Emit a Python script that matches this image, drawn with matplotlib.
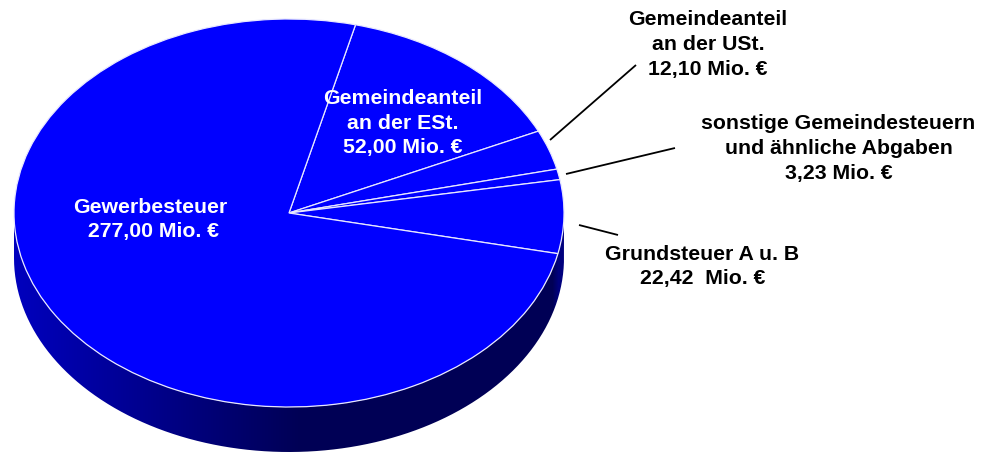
import numpy as np
import matplotlib
matplotlib.use('Agg')
import matplotlib.pyplot as plt
from matplotlib.path import Path
from matplotlib.patches import PathPatch

plt.rcParams['font.family'] = ['Liberation Sans', 'DejaVu Sans']

# clockwise from the top: ESt, USt, sonstige, Grundsteuer, Gewerbesteuer
values = [52.00, 12.10, 3.23, 22.42, 277.00]
labels = ['Gemeindeanteil\nan der ESt.\n52,00 Mio. €',
          'Gemeindeanteil\nan der USt.\n12,10 Mio. €',
          'sonstige Gemeindesteuern\nund ähnliche Abgaben\n3,23 Mio. €',
          'Grundsteuer A u. B\n22,42  Mio. €',
          'Gewerbesteuer\n 277,00 Mio. €']
label_px = [(403, 123), (708, 44.5), (838.5, 148.5), (702.5, 266.5), (150, 219.5)]
# leader lines in pixels, None = label sits on the slice
leader_px = [None, ((550, 140), (636, 65)), ((566, 174), (675, 148)), ((579, 225), (618, 235)), None]

W, H = 992, 453
CX, CY = 289, 213
RX, RY = 275, 194
DEPTH = 45


def to_x(px):
    return (px - CX) / RX


def to_y(py):
    return (CY - py) / RY


fig = plt.figure(figsize=(W / 100, H / 100), dpi=100)
ax = fig.add_axes([0, 0, 1, 1])

# side wall of the disc
t = np.linspace(np.pi, 2 * np.pi, 300)
top_edge = np.column_stack([np.cos(t), np.sin(t)])
low_edge = np.column_stack([np.cos(t), np.sin(t) - DEPTH / RY])
wall = np.vstack([top_edge, low_edge[::-1], top_edge[:1]])
clip = PathPatch(Path(wall), facecolor='none', edgecolor='none', transform=ax.transData)
ax.add_patch(clip)

xs = np.arange(W)
blue = np.interp(xs, [14, 300, 552, 558, 564], [190, 85, 85, 125, 125]) / 255
grad = np.zeros((1, W, 3))
grad[0, :, 2] = blue
img = ax.imshow(grad, extent=(to_x(0), to_x(W), to_y(H), to_y(0)), aspect='auto', zorder=1)
img.set_clip_path(clip)

wedges, _ = ax.pie(values, startangle=76, counterclock=False, radius=1,
                   colors=['#0000ff'] * len(values),
                   wedgeprops=dict(edgecolor='#e8e8ff', linewidth=0.9))
for w in wedges:
    w.set_zorder(2)

for lab, pos, lead in zip(labels, label_px, leader_px):
    inside = lead is None
    ax.text(to_x(pos[0]), to_y(pos[1]), lab, ha='center', va='center', multialignment='center',
            fontsize=15.3, fontweight='bold', linespacing=1.38,
            color='white' if inside else 'black', zorder=4)
    if lead:
        ax.plot([to_x(lead[0][0]), to_x(lead[1][0])], [to_y(lead[0][1]), to_y(lead[1][1])],
                color='black', lw=1.3, zorder=3, solid_capstyle='butt')

ax.set_aspect('auto')
ax.set_xlim(to_x(0), to_x(W))
ax.set_ylim(to_y(H), to_y(0))
ax.axis('off')

fig.savefig('out.png', dpi=100, facecolor='white')
